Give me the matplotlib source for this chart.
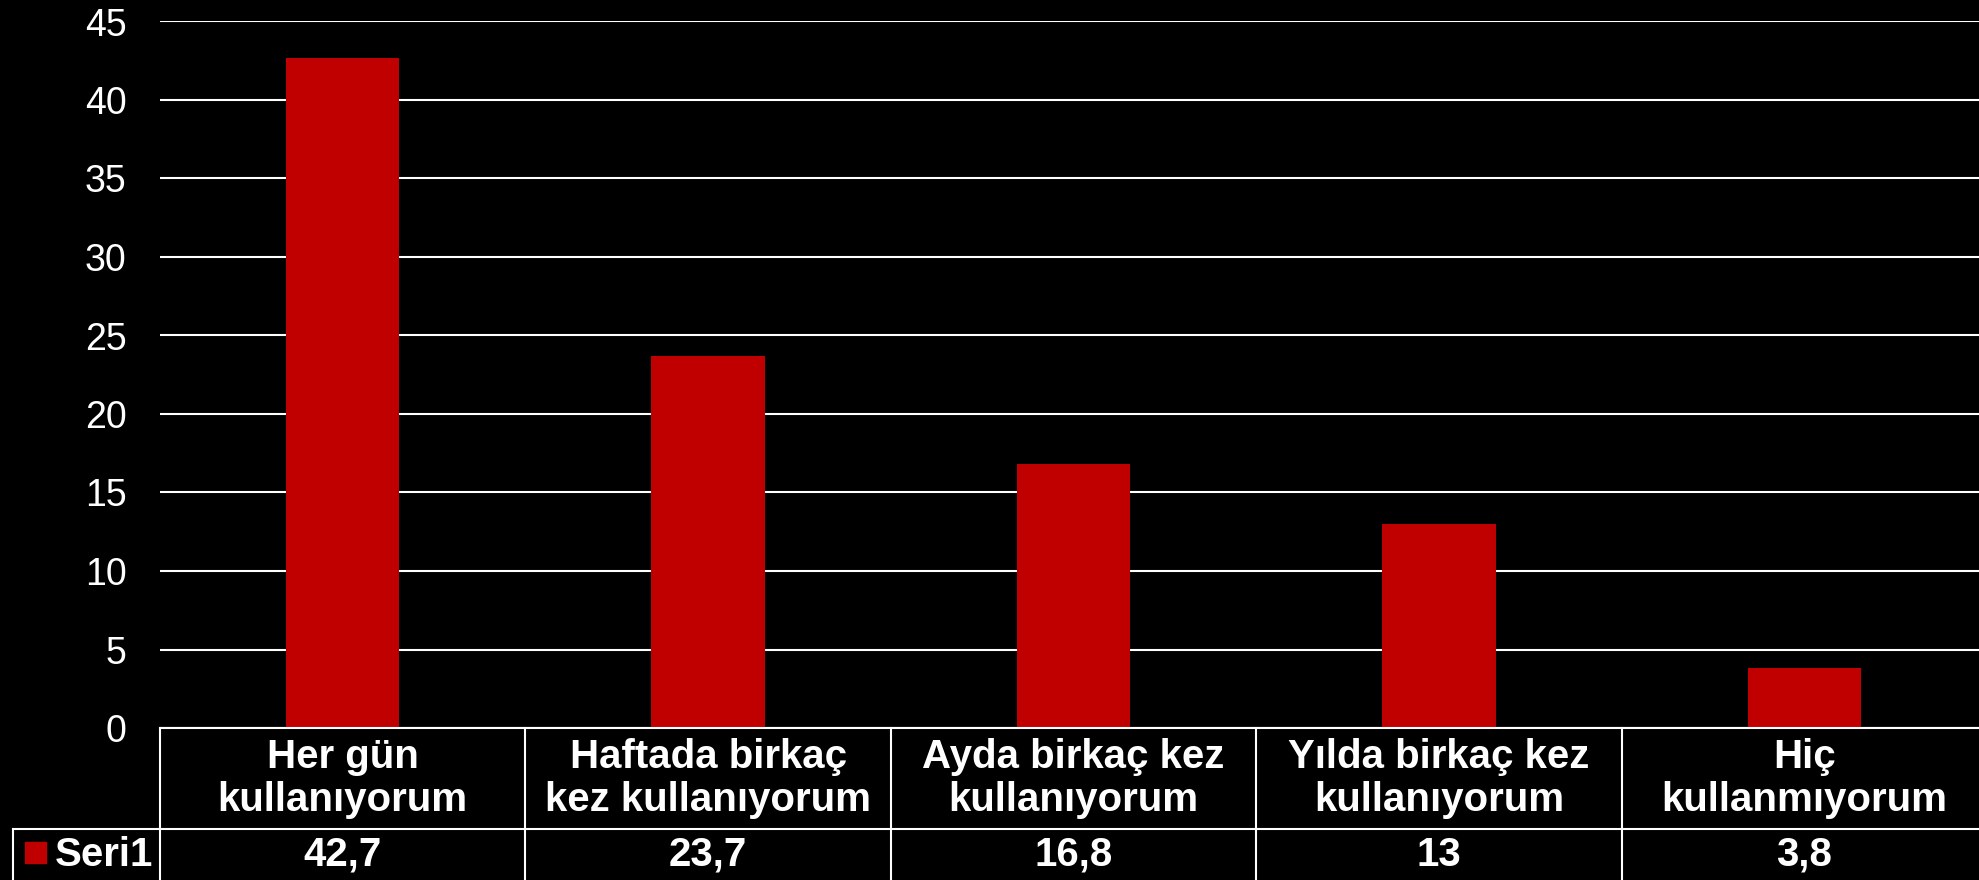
import matplotlib.pyplot as plt
import matplotlib.transforms as mtransforms
from matplotlib.patches import Rectangle
from matplotlib.lines import Line2D

# veriler
categories = ["Her gün\nkullanıyorum", "Haftada birkaç\nkez kullanıyorum",
              "Ayda birkaç kez\nkullanıyorum", "Yılda birkaç kez\nkullanıyorum",
              "Hiç\nkullanmıyorum"]
values = [42.7, 23.7, 16.8, 13, 3.8]
value_labels = ["42,7", "23,7", "16,8", "13", "3,8"]
series_name = "Seri1"
yticks = [0, 5, 10, 15, 20, 25, 30, 35, 40, 45]

BAR_COLOR = "#C00000"
W, H = 1979, 880

plt.rcParams['font.family'] = ['Liberation Sans', 'DejaVu Sans']

fig = plt.figure(figsize=(W / 100, H / 100), dpi=100, facecolor="black")
# tablo sütunları resmin sağ kenarını biraz aşıyor
ax = fig.add_axes([160 / W, (H - 728) / H, (1987 - 160) / W, (728 - 21.5) / H])
ax.set_facecolor("black")

x = range(len(values))
ax.bar(x, values, width=0.31, color=BAR_COLOR, zorder=2)
ax.set_xlim(-0.5, len(values) - 0.5)
ax.set_ylim(0, 45)
ax.set_yticks(yticks)
ax.yaxis.grid(True, color="white", linewidth=1.5)
ax.set_axisbelow(True)
ax.set_xticks([])
ax.tick_params(axis="y", length=0, pad=24, labelsize=27, labelcolor="white")
for s in ax.spines.values():
    s.set_visible(False)

# alttaki veri tablosu
tr = mtransforms.blended_transform_factory(ax.transData, fig.transFigure)
y_top = (H - 728) / H
y_mid = (H - 829) / H
lw = 1.5
fig.add_artist(Line2D([-0.5, len(values) - 0.5], [y_top, y_top], transform=tr,
                      color="white", lw=lw))
fig.add_artist(Line2D([12.6 / W, 1], [y_mid, y_mid], transform=fig.transFigure,
                      color="white", lw=lw))
fig.add_artist(Line2D([12.6 / W, 12.6 / W], [0, y_mid], transform=fig.transFigure,
                      color="white", lw=lw))
for i in range(len(values)):
    fig.add_artist(Line2D([i - 0.5, i - 0.5], [0, y_top], transform=tr,
                          color="white", lw=lw))

for i, (c, v) in enumerate(zip(categories, value_labels)):
    ax.text(i, (y_top + y_mid) / 2, c, transform=tr, ha="center", va="center",
            multialignment="center", color="white", fontsize=29,
            fontweight="bold", linespacing=1.18, clip_on=False)
    ax.text(i, y_mid / 2, v, transform=tr, ha="center", va="center",
            color="white", fontsize=29, fontweight="bold", clip_on=False)

fig.patches.append(Rectangle((25 / W, (H - 863) / H), 21 / W, 21 / H,
                             transform=fig.transFigure, color=BAR_COLOR))
fig.text(55 / W, y_mid / 2, series_name, ha="left", va="center", color="white",
         fontsize=29, fontweight="bold")

fig.savefig("out.png", dpi=100, facecolor="black")
